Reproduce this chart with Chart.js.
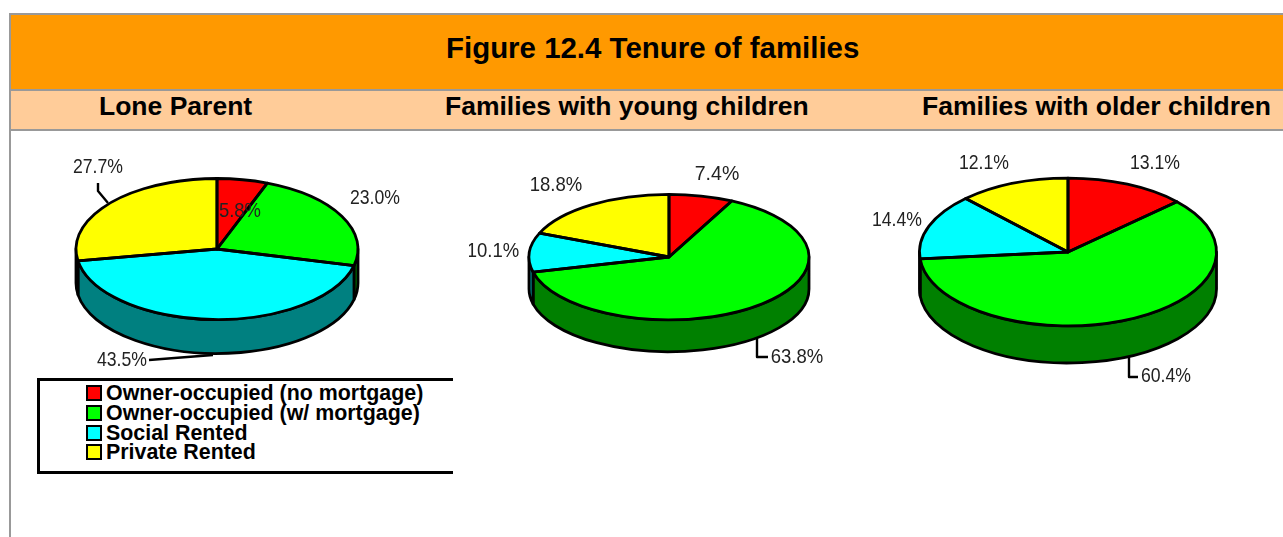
<!DOCTYPE html>
<html>
<head>
<meta charset="utf-8">
<title>Figure 12.4 Tenure of families</title>
<script src="https://cdn.jsdelivr.net/npm/chart.js@4"></script>
<style>
  html, body { margin: 0; padding: 0; background: #fff; overflow: hidden; }
  body { width: 1283px; height: 537px; position: relative; font-family: "Liberation Sans", Arial, sans-serif; color: #000; }
  #frame { position: absolute; left: 9px; top: 13px; right: 0; bottom: 0; border-left: 2px solid #999; border-top: 2px solid #999; }
  #band { position: absolute; left: 11px; right: 0; top: 15px; height: 74px; background: #f90; border-bottom: 2px solid #999; }
  #subband { position: absolute; left: 11px; right: 0; top: 91px; height: 38px; background: #fc9; border-bottom: 2px solid #999; }
  .head { position: absolute; font-weight: bold; white-space: nowrap; line-height: 30px; }
  #title { font-size: 29.45px; left: 446px; top: 33px; }
  .sub { font-size: 26.5px; top: 91px; }
  canvas { position: absolute; }
  #legend { position: absolute; left: 37px; top: 378px; width: 413px; height: 90px; border: 3px solid #000; border-right: 0; background: #fff; box-sizing: content-box; }
  .item { position: absolute; left: 46px; height: 20px; line-height: 20px; font-size: 21.4px; font-weight: bold; white-space: nowrap; padding-left: 20px; }
  .item i { position: absolute; left: 0; top: 2px; width: 16px; height: 16px; box-sizing: border-box; border: 2px solid #000; }
</style>
</head>
<body>
<div id="frame"></div>
<div id="band"></div>
<div id="subband"></div>
<div class="head" id="title">Figure 12.4 Tenure of families</div>
<div class="head sub" style="left:99px">Lone Parent</div>
<div class="head sub" style="left:445px">Families with young children</div>
<div class="head sub" style="left:922px">Families with older children</div>
<div id="legend"></div>
<canvas id="pie1" width="400" height="280" style="left:17px;top:109px;width:400px;height:280px"></canvas>
<canvas id="pie2" width="400" height="280" style="left:469px;top:117px;width:400px;height:280px"></canvas>
<canvas id="pie3" width="400" height="280" style="left:868px;top:112px;width:400px;height:280px"></canvas>
<script>
// values, in percent
var categories = ["Owner-occupied (no mortgage)", "Owner-occupied (w/ mortgage)", "Social Rented", "Private Rented"];
var loneParent = [5.8, 23.0, 43.5, 27.7];
var youngChildren = [7.4, 63.8, 10.1, 18.8];
var olderChildren = [13.1, 60.4, 14.4, 12.1];

var topColors = ["#ff0000", "#00ff00", "#00ffff", "#ffff00"];
var wallColors = ["#800000", "#008000", "#008080", "#808000"];

// fake 3D pie: the arcs come from Chart.js, this plugin squashes them and adds the wall
var tiltPlugin = {
    id: 'tilt',
    beforeDatasetsDraw: function (chart, args, opts) {
        var ctx = chart.ctx;
        var arcs = chart.getDatasetMeta(0).data;
        var cx = arcs[0].x, cy = arcs[0].y, r = arcs[0].outerRadius, ry = r * opts.ratio;
        ctx.save();
        ctx.lineWidth = opts.line;
        ctx.strokeStyle = '#000';
        ctx.lineJoin = 'round';
        arcs.forEach(function (arc, i) {
            // only the part of the rim that faces the viewer
            var a = Math.max(arc.startAngle, 0), b = Math.min(arc.endAngle, Math.PI);
            if (b <= a) return;
            ctx.beginPath();
            ctx.ellipse(cx, cy, r, ry, 0, a, b);
            ctx.ellipse(cx, cy + opts.depth, r, ry, 0, b, a, true);
            ctx.closePath();
            ctx.fillStyle = wallColors[i];
            ctx.fill();
            ctx.stroke();
        });
        ctx.restore();
        ctx.save();
        ctx.translate(cx, cy);
        ctx.scale(1, opts.ratio);
        ctx.translate(-cx, -cy);
    },
    afterDatasetsDraw: function (chart, args, opts) {
        var ctx = chart.ctx;
        ctx.restore();
        var arcs = chart.getDatasetMeta(0).data;
        var cx = arcs[0].x, cy = arcs[0].y, r = arcs[0].outerRadius, ry = r * opts.ratio;
        var values = chart.data.datasets[0].data;
        ctx.save();
        ctx.lineWidth = opts.line;
        ctx.strokeStyle = '#000';
        ctx.lineJoin = 'round';
        arcs.forEach(function (arc) {
            ctx.beginPath();
            ctx.moveTo(cx, cy);
            ctx.ellipse(cx, cy, r, ry, 0, arc.startAngle, arc.endAngle);
            ctx.closePath();
            ctx.stroke();
        });
        // leader lines
        ctx.lineWidth = 2.4;
        opts.leaders.forEach(function (pts) {
            ctx.beginPath();
            pts.forEach(function (p, i) {
                if (i === 0) ctx.moveTo(cx + p[0], cy + p[1]);
                else ctx.lineTo(cx + p[0], cy + p[1]);
            });
            ctx.stroke();
        });
        // value labels, squeezed like the narrow type of the original
        ctx.font = '21px "Liberation Sans", Arial, sans-serif';
        ctx.fillStyle = '#222';
        ctx.textAlign = 'center';
        ctx.textBaseline = 'middle';
        values.forEach(function (v, i) {
            var pos = opts.labels[i];
            var txt = v.toFixed(1) + '%';
            ctx.fillText(txt, cx + pos[0], cy + pos[1] + 1, txt.length === 4 ? opts.textWidth - 8 : opts.textWidth);
        });
        ctx.restore();
    }
};

function drawPie(id, values, radius, ratio, depth, textWidth, labels, leaders) {
    return new Chart(document.getElementById(id), {
        type: 'pie',
        plugins: [tiltPlugin],
        data: {
            labels: categories,
            datasets: [{
                data: values,
                backgroundColor: topColors,
                borderWidth: 0,
                clip: false
            }]
        },
        options: {
            responsive: false,
            animation: false,
            radius: radius,
            events: [],
            plugins: {
                legend: { display: false },
                tooltip: { enabled: false },
                tilt: { ratio: ratio, depth: depth, line: 2.8, textWidth: textWidth, labels: labels, leaders: leaders }
            }
        }
    });
}

// label spots and leaders are offsets from the pie centre
drawPie('pie1', loneParent, 141, 0.5, 34, 50,
    [[23, -39], [158, -52], [-95, 110], [-119, -83]],
    [[[-119, -66], [-119, -58], [-109, -46]], [[-68, 111], [-4, 106]]]);
drawPie('pie2', youngChildren, 140, 0.448, 32, 52.5,
    [[48, -84], [128, 99], [-176, -7], [-113, -73]],
    [[[88, 81], [88, 100], [99, 100]]]);
drawPie('pie3', olderChildren, 148.5, 0.498, 37, 50,
    [[87, -90], [98, 123], [-171, -33], [-84, -90]],
    [[[61, 105], [61, 125], [70, 125]]]);

// legend box under the first pie
var legend = document.getElementById('legend');
categories.forEach(function (name, i) {
    var row = document.createElement('div');
    row.className = 'item';
    row.style.top = (2 + i * 19.8) + 'px';
    row.innerHTML = '<i style="background:' + topColors[i] + '"></i>' + name;
    legend.appendChild(row);
});
</script>
</body>
</html>
